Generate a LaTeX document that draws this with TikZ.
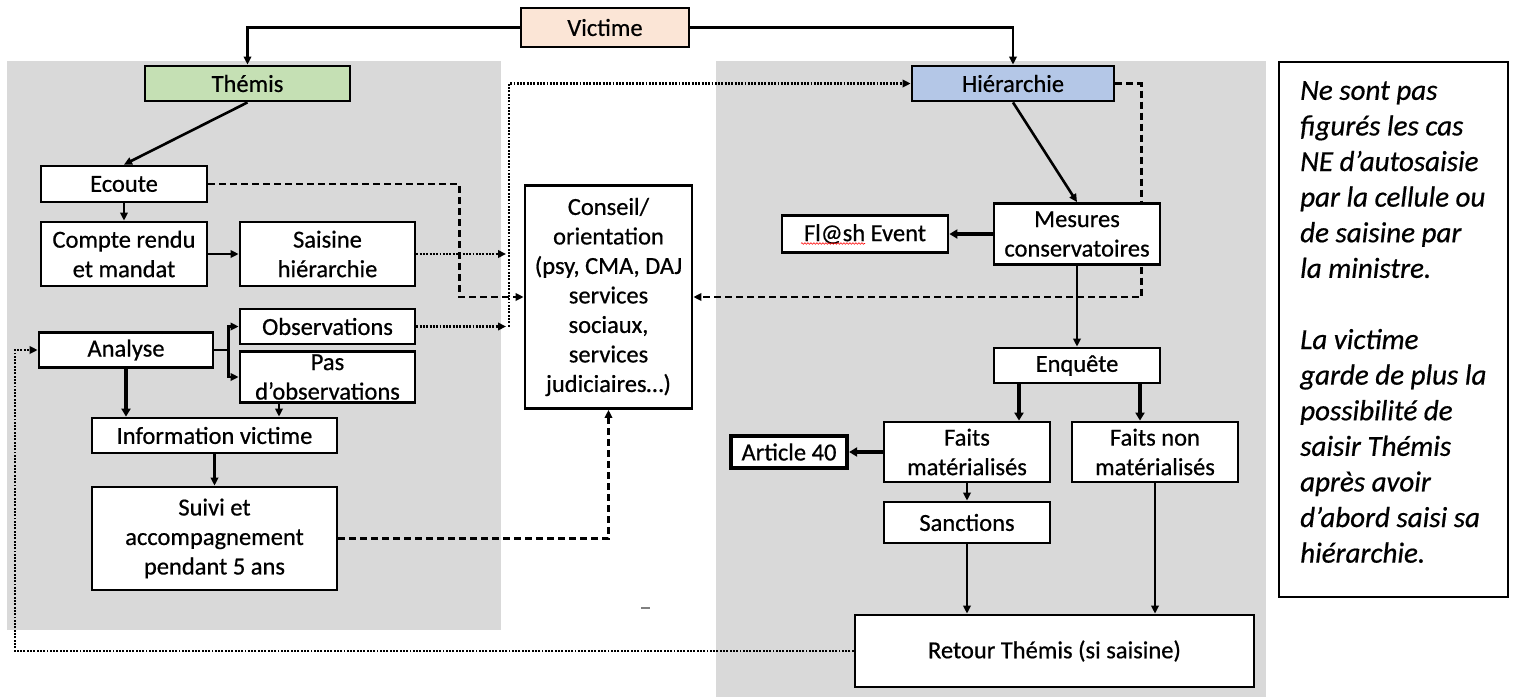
\documentclass[tikz,border=0pt]{standalone}
\usepackage{fontspec}
\setmainfont{Carlito}[FakeBold=0.6]
\usetikzlibrary{arrows.meta,decorations.pathmorphing}
\definecolor{panel}{HTML}{D9D9D9}
\definecolor{peach}{HTML}{FBE5D6}
\definecolor{lgreen}{HTML}{C5E0B4}
\definecolor{lblue}{HTML}{B4C7E7}
\pgfdeclarelayer{bg}
\pgfsetlayers{bg,main}
\tikzset{
  bx/.style={draw, line width=2.8pt, fill=white, align=center, inner sep=0pt,
    font=\fontsize{24.5}{29.5}\selectfont},
  tip/.style={-{Triangle[length=8pt,width=7.5pt]}},
  arr/.style={line width=2.6pt, tip},
  tarr/.style={line width=3.6pt, -{Triangle[length=8pt,width=9pt]}},
  dsh/.style={line width=2.5pt, dash pattern=on 7pt off 4pt},
  dtt/.style={line width=2.8pt, dash pattern=on 1.9pt off 1.4pt},
}
\begin{document}
\begin{tikzpicture}[x=1pt,y=-1pt]
\useasboundingbox (0,0) rectangle (1513,697);

% nodes
\node[bx, fill=peach, minimum width=168pt, minimum height=39pt] (victime) at (605,27.5) {Victime};
\node[bx, fill=lgreen, minimum width=205pt, minimum height=35pt] (themis) at (247.5,83.5) {Thémis};
\node[bx, fill=lblue, minimum width=202pt, minimum height=35pt] (hier) at (1013,83.5) {Hiérarchie};

\node[bx, minimum width=166pt, minimum height=36pt] (ecoute) at (124,184) {Ecoute};
\node[bx, minimum width=166pt, minimum height=64pt] (compte) at (124,254) {Compte rendu\\et mandat};
\node[bx, minimum width=175pt, minimum height=64pt] (saisine) at (327.5,254) {Saisine\\hiérarchie};
\node[bx, minimum width=174pt, minimum height=35pt] (analyse) at (126,350) {Analyse};
\node[bx, minimum width=175pt, minimum height=35pt] (obs) at (327.5,326.5) {Observations};
\node[bx, minimum width=175pt, minimum height=51pt] (pas) at (327.5,377) {Pas\\d’observations};
\node[bx, minimum width=245pt, minimum height=35pt] (info) at (214.5,435.5) {Information victime};
\node[bx, minimum width=245pt, minimum height=103pt] (suivi) at (214.5,538.5) {Suivi et\\accompagnement\\pendant 5 ans};

\node[bx, minimum width=167pt, minimum height=223pt] (conseil) at (608.5,297) {Conseil/\\orientation\\(psy, CMA, DAJ\\services\\sociaux,\\services\\judiciaires…)};

\node[bx, minimum width=166pt, minimum height=61pt] (mesures) at (1077,234) {Mesures\\conservatoires};
\node[bx, minimum width=166pt, minimum height=37pt] (flash) at (865,234) {Fl@sh Event};
\node[bx, minimum width=166pt, minimum height=35pt] (enquete) at (1077,365.5) {Enquête};
\node[bx, minimum width=166pt, minimum height=60pt] (fm) at (967,452) {Faits\\matérialisés};
\node[bx, minimum width=166pt, minimum height=60pt] (fnm) at (1155,452) {Faits non\\matérialisés};
\node[bx, line width=4.2pt, minimum width=116pt, minimum height=32pt] (art) at (789,452) {Article 40};
\node[bx, minimum width=166pt, minimum height=41pt] (sanc) at (967,522.5) {Sanctions};
\node[bx, minimum width=399pt, minimum height=72pt] (retour) at (1054.5,651) {Retour Thémis (si saisine)};

\node[draw, line width=1.3pt, minimum width=229pt, minimum height=535pt, inner sep=0pt] (note) at (1393.5,329.5) {};
\node[anchor=north west, align=left, inner sep=0pt,
  font=\fontsize{29}{35.6}\selectfont\itshape] (notetext) at (1300,81)
  {Ne sont pas\\figurés les cas\\NE d’autosaisie\\par la cellule ou\\de saisine par\\la ministre.\\[35.6pt]La victime\\garde de plus la\\possibilité de\\saisir Thémis\\après avoir\\d’abord saisi sa\\hiérarchie.};

% background panels and hidden connector
\begin{pgfonlayer}{bg}
  \fill[panel] (7,61) rectangle (501,630);
  \fill[panel] (716,61) rectangle (1266,697);
  \draw[dsh, tip] (hier.east) -- ++(26,0) |- (conseil.east);
\end{pgfonlayer}

% connectors
\draw[arr] (victime.west) -| (themis.north);
\draw[arr] (victime.east) -| (hier.north);
\draw[arr] (themis.south) -- (ecoute.north);
\draw[arr] (ecoute.south) -- (compte.north);
\draw[arr] (compte.east) -- (saisine.west);
\draw[dsh, tip] (ecoute.east) -- ++(251,0) |- (conseil.west);

\coordinate (vj) at (509,0);
\draw[dtt, tip] (saisine.east) -- ([xshift=-3pt]saisine.east -| vj);
\draw[dtt, tip] (obs.east) -- ([xshift=-3pt]obs.east -| vj);
\draw[dtt, tip] (obs.east -| vj) |- (hier.west);

\coordinate (lb) at (15,0);
\draw[dtt, tip] (retour.west) -- (retour.west -| lb) |- (analyse.west);

\draw[arr] (analyse.east) -- ++(14,0) |- (obs.west);
\draw[arr] (analyse.east) -- ++(14,0) |- (pas.west);
\draw[tarr] (analyse.south) -- (analyse.south |- info.north);
\draw[arr] ([xshift=-48.5pt]pas.south) -- ([xshift=-48.5pt]pas.south |- info.north);
\draw[arr] (info.south) -- (suivi.north);
\draw[dsh, tip] (suivi.east) -| (conseil.south);

\draw[arr] (hier.south) -- (mesures.north);
\draw[tarr] (mesures.west) -- (flash.east);
\draw[arr] (mesures.south) -- (enquete.north);
\draw[tarr] ([xshift=-58pt]enquete.south) -- ([xshift=-58pt]enquete.south |- fm.north);
\draw[tarr] ([xshift=63pt]enquete.south) -- ([xshift=63pt]enquete.south |- fnm.north);
\draw[tarr] (fm.west) -- (art.east);
\draw[arr] (fm.south) -- (sanc.north);
\draw[arr] (sanc.south) -- (sanc.south |- retour.north);
\draw[arr] (fnm.south) -- (fnm.south |- retour.north);

% small marks
\draw[red, line width=0.6pt, decorate, decoration={snake, amplitude=0.8pt, segment length=3pt}]
  ([xshift=-64pt,yshift=-9.5pt]flash.center) -- ([xshift=0pt,yshift=-9.5pt]flash.center);
\draw[gray, line width=2pt] (641,608) -- (650,608);
\end{tikzpicture}
\end{document}
